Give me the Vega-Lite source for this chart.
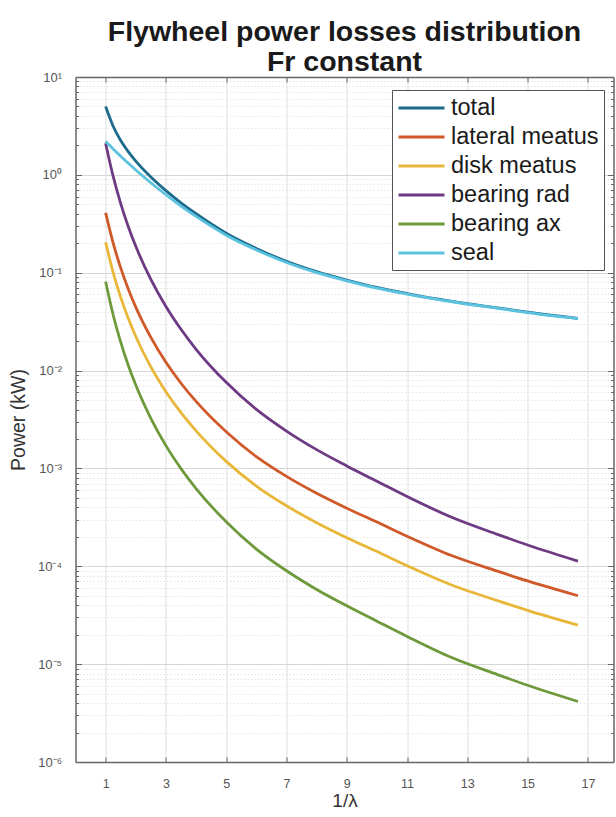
{
  "$schema": "https://vega.github.io/schema/vega-lite/v6.json",
  "width": 538,
  "height": 685,
  "autosize": {"type": "none"},
  "padding": {"left": 75.5, "top": 77, "right": 2.5, "bottom": 55},
  "background": "white",
  "title": {
    "text": ["Flywheel power losses distribution", "Fr constant"],
    "font": "Liberation Sans",
    "fontSize": 28.5,
    "fontWeight": "bold",
    "color": "#1a1a1a",
    "anchor": "middle",
    "offset": 6,
    "dy": 11,
    "lineHeight": 30
  },
  "config": {
    "view": {"stroke": null},
    "axis": {
      "labelFont": "Liberation Sans",
      "titleFont": "Liberation Sans",
      "labelColor": "#555555",
      "titleColor": "#333333",
      "titleFontWeight": "normal",
      "domainColor": "#666666",
      "domainWidth": 1.5,
      "tickColor": "#666666"
    },
    "line": {"strokeCap": "butt", "strokeJoin": "round"}
  },
  "data": {
    "values": [
      {"x": 1, "s": "total", "p": 5.0},
      {"x": 1.25, "s": "total", "p": 3.14},
      {"x": 1.5, "s": "total", "p": 2.244},
      {"x": 1.75, "s": "total", "p": 1.728},
      {"x": 2, "s": "total", "p": 1.382},
      {"x": 2.5, "s": "total", "p": 0.9515},
      {"x": 3, "s": "total", "p": 0.691},
      {"x": 3.5, "s": "total", "p": 0.5185},
      {"x": 4, "s": "total", "p": 0.4004},
      {"x": 5, "s": "total", "p": 0.2534},
      {"x": 6, "s": "total", "p": 0.1771},
      {"x": 7, "s": "total", "p": 0.1307},
      {"x": 8, "s": "total", "p": 0.1025},
      {"x": 9, "s": "total", "p": 0.0842},
      {"x": 10, "s": "total", "p": 0.0707},
      {"x": 11, "s": "total", "p": 0.0613},
      {"x": 12.5, "s": "total", "p": 0.051},
      {"x": 14, "s": "total", "p": 0.0437},
      {"x": 15, "s": "total", "p": 0.0395},
      {"x": 16.67, "s": "total", "p": 0.0342},

      {"x": 1, "s": "lateral meatus", "p": 0.41},
      {"x": 1.25, "s": "lateral meatus", "p": 0.2006},
      {"x": 1.5, "s": "lateral meatus", "p": 0.1119},
      {"x": 1.75, "s": "lateral meatus", "p": 0.0683},
      {"x": 2, "s": "lateral meatus", "p": 0.0445},
      {"x": 2.5, "s": "lateral meatus", "p": 0.0218},
      {"x": 3, "s": "lateral meatus", "p": 0.01215},
      {"x": 3.5, "s": "lateral meatus", "p": 0.00742},
      {"x": 4, "s": "lateral meatus", "p": 0.00484},
      {"x": 5, "s": "lateral meatus", "p": 0.00237},
      {"x": 6, "s": "lateral meatus", "p": 0.00132},
      {"x": 7, "s": "lateral meatus", "p": 0.000829},
      {"x": 8, "s": "lateral meatus", "p": 0.000557},
      {"x": 9, "s": "lateral meatus", "p": 0.000392},
      {"x": 10, "s": "lateral meatus", "p": 0.000283},
      {"x": 11, "s": "lateral meatus", "p": 0.000203},
      {"x": 12.5, "s": "lateral meatus", "p": 0.000128},
      {"x": 14, "s": "lateral meatus", "p": 0.0000891},
      {"x": 15, "s": "lateral meatus", "p": 0.0000708},
      {"x": 16.67, "s": "lateral meatus", "p": 0.00005},

      {"x": 1, "s": "disk meatus", "p": 0.205},
      {"x": 1.25, "s": "disk meatus", "p": 0.1003},
      {"x": 1.5, "s": "disk meatus", "p": 0.056},
      {"x": 1.75, "s": "disk meatus", "p": 0.0342},
      {"x": 2, "s": "disk meatus", "p": 0.0223},
      {"x": 2.5, "s": "disk meatus", "p": 0.0109},
      {"x": 3, "s": "disk meatus", "p": 0.00608},
      {"x": 3.5, "s": "disk meatus", "p": 0.00371},
      {"x": 4, "s": "disk meatus", "p": 0.00242},
      {"x": 5, "s": "disk meatus", "p": 0.00118},
      {"x": 6, "s": "disk meatus", "p": 0.00066},
      {"x": 7, "s": "disk meatus", "p": 0.000415},
      {"x": 8, "s": "disk meatus", "p": 0.000279},
      {"x": 9, "s": "disk meatus", "p": 0.000196},
      {"x": 10, "s": "disk meatus", "p": 0.0001415},
      {"x": 11, "s": "disk meatus", "p": 0.0001015},
      {"x": 12.5, "s": "disk meatus", "p": 0.000064},
      {"x": 14, "s": "disk meatus", "p": 0.0000446},
      {"x": 15, "s": "disk meatus", "p": 0.0000354},
      {"x": 16.67, "s": "disk meatus", "p": 0.000025},

      {"x": 1, "s": "bearing rad", "p": 2.1},
      {"x": 1.25, "s": "bearing rad", "p": 0.963},
      {"x": 1.5, "s": "bearing rad", "p": 0.509},
      {"x": 1.75, "s": "bearing rad", "p": 0.297},
      {"x": 2, "s": "bearing rad", "p": 0.186},
      {"x": 2.5, "s": "bearing rad", "p": 0.0855},
      {"x": 3, "s": "bearing rad", "p": 0.0452},
      {"x": 3.5, "s": "bearing rad", "p": 0.0264},
      {"x": 4, "s": "bearing rad", "p": 0.0165},
      {"x": 5, "s": "bearing rad", "p": 0.00758},
      {"x": 6, "s": "bearing rad", "p": 0.00401},
      {"x": 7, "s": "bearing rad", "p": 0.00241},
      {"x": 8, "s": "bearing rad", "p": 0.001556},
      {"x": 9, "s": "bearing rad", "p": 0.00106},
      {"x": 10, "s": "bearing rad", "p": 0.00074},
      {"x": 11, "s": "bearing rad", "p": 0.000516},
      {"x": 12.5, "s": "bearing rad", "p": 0.000315},
      {"x": 14, "s": "bearing rad", "p": 0.000212},
      {"x": 15, "s": "bearing rad", "p": 0.000165},
      {"x": 16.67, "s": "bearing rad", "p": 0.000113},

      {"x": 1, "s": "bearing ax", "p": 0.081},
      {"x": 1.25, "s": "bearing ax", "p": 0.037},
      {"x": 1.5, "s": "bearing ax", "p": 0.0195},
      {"x": 1.75, "s": "bearing ax", "p": 0.01135},
      {"x": 2, "s": "bearing ax", "p": 0.00711},
      {"x": 2.5, "s": "bearing ax", "p": 0.00325},
      {"x": 3, "s": "bearing ax", "p": 0.00171},
      {"x": 3.5, "s": "bearing ax", "p": 0.000996},
      {"x": 4, "s": "bearing ax", "p": 0.000623},
      {"x": 5, "s": "bearing ax", "p": 0.000285},
      {"x": 6, "s": "bearing ax", "p": 0.00015},
      {"x": 7, "s": "bearing ax", "p": 0.00009},
      {"x": 8, "s": "bearing ax", "p": 0.000058},
      {"x": 9, "s": "bearing ax", "p": 0.0000395},
      {"x": 10, "s": "bearing ax", "p": 0.0000275},
      {"x": 11, "s": "bearing ax", "p": 0.0000192},
      {"x": 12.5, "s": "bearing ax", "p": 0.0000116},
      {"x": 14, "s": "bearing ax", "p": 0.00000782},
      {"x": 15, "s": "bearing ax", "p": 0.00000608},
      {"x": 16.67, "s": "bearing ax", "p": 0.00000415},

      {"x": 1, "s": "seal", "p": 2.2},
      {"x": 1.25, "s": "seal", "p": 1.84},
      {"x": 1.5, "s": "seal", "p": 1.548},
      {"x": 1.75, "s": "seal", "p": 1.317},
      {"x": 2, "s": "seal", "p": 1.122},
      {"x": 2.5, "s": "seal", "p": 0.83},
      {"x": 3, "s": "seal", "p": 0.626},
      {"x": 3.5, "s": "seal", "p": 0.48},
      {"x": 4, "s": "seal", "p": 0.376},
      {"x": 5, "s": "seal", "p": 0.242},
      {"x": 6, "s": "seal", "p": 0.171},
      {"x": 7, "s": "seal", "p": 0.127},
      {"x": 8, "s": "seal", "p": 0.1},
      {"x": 9, "s": "seal", "p": 0.0825},
      {"x": 10, "s": "seal", "p": 0.0695},
      {"x": 11, "s": "seal", "p": 0.0605},
      {"x": 12.5, "s": "seal", "p": 0.0505},
      {"x": 14, "s": "seal", "p": 0.0433},
      {"x": 15, "s": "seal", "p": 0.0392},
      {"x": 16.67, "s": "seal", "p": 0.034}
    ]
  },
  "layer": [
    {
      "transform": [{"filter": "datum.s !== 'seal'"}],
      "mark": {"type": "line", "strokeWidth": 2.8, "interpolate": "monotone"},
      "encoding": {
        "x": {
          "field": "x",
          "type": "quantitative",
          "scale": {"domain": [0, 17.85], "nice": false, "zero": false},
          "axis": {
            "values": [1, 3, 5, 7, 9, 11, 13, 15, 17],
            "title": "1/λ",
            "titleFontSize": 19,
            "titlePadding": 2,
            "labelFontSize": 12.5,
            "labelPadding": 20,
            "tickSize": -5,
            "grid": true,
            "gridColor": "#dedede",
            "gridWidth": 1
          }
        },
        "y": {
          "field": "p",
          "type": "quantitative",
          "scale": {"type": "log", "domain": [0.000001, 10], "nice": false},
          "axis": {
            "values": [0.000001, 0.000002, 0.000003, 0.000004, 0.000005, 0.000006, 0.000007, 0.000008, 0.000009,
                       0.00001, 0.00002, 0.00003, 0.00004, 0.00005, 0.00006, 0.00007, 0.00008, 0.00009,
                       0.0001, 0.0002, 0.0003, 0.0004, 0.0005, 0.0006, 0.0007, 0.0008, 0.0009,
                       0.001, 0.002, 0.003, 0.004, 0.005, 0.006, 0.007, 0.008, 0.009,
                       0.01, 0.02, 0.03, 0.04, 0.05, 0.06, 0.07, 0.08, 0.09,
                       0.1, 0.2, 0.3, 0.4, 0.5, 0.6, 0.7, 0.8, 0.9,
                       1, 2, 3, 4, 5, 6, 7, 8, 9, 10],
            "labelExpr": "abs(log(datum.value)/LN10 - round(log(datum.value)/LN10)) < 0.001 ? ['10⁻⁶','10⁻⁵','10⁻⁴','10⁻³','10⁻²','10⁻¹','10⁰','10¹'][round(log(datum.value)/LN10) + 6] : ''",
            "labelFontSize": 13,
            "labelPadding": 20,
            "labelOverlap": false,
            "title": "Power (kW)",
            "titleFontSize": 19.5,
            "titlePadding": 9,
            "tickSize": {"condition": {"test": "abs(log(datum.value)/LN10 - round(log(datum.value)/LN10)) < 0.001", "value": -6}, "value": -3},
            "grid": true,
            "gridColor": {"condition": {"test": "abs(log(datum.value)/LN10 - round(log(datum.value)/LN10)) < 0.001", "value": "#d6d6d6"}, "value": "#e6e6e6"},
            "gridDash": {"condition": {"test": "abs(log(datum.value)/LN10 - round(log(datum.value)/LN10)) < 0.001", "value": []}, "value": [1.5, 2]}
          }
        },
        "color": {
          "field": "s",
          "type": "nominal",
          "scale": {
            "domain": ["total", "lateral meatus", "disk meatus", "bearing rad", "bearing ax", "seal"],
            "range": ["#1d6b8c", "#d0592a", "#e8b73a", "#6f3a84", "#6f9a3c", "#5bc3e0"]
          },
          "legend": {
            "title": null,
            "orient": "none",
            "legendX": 316.5,
            "legendY": 13,
            "symbolType": "M-1,0H3",
            "symbolSize": 529,
            "symbolStrokeWidth": 3,
            "labelFont": "Liberation Sans",
            "labelFontSize": 23.5,
            "labelColor": "#1a1a1a",
            "labelOffset": 28,
            "labelLimit": 300,
            "strokeColor": "#555555",
            "fillColor": "white",
            "padding": 5,
            "rowPadding": 4
          }
        }
      }
    },
    {
      "transform": [{"filter": "datum.s === 'seal'"}],
      "mark": {"type": "line", "strokeWidth": 2.8, "interpolate": "monotone"},
      "encoding": {
        "x": {
          "field": "x",
          "type": "quantitative",
          "axis": {
            "orient": "top",
            "values": [1, 3, 5, 7, 9, 11, 13, 15, 17],
            "labels": false,
            "title": null,
            "tickSize": -5,
            "grid": false
          }
        },
        "y": {
          "field": "p",
          "type": "quantitative",
          "axis": {
            "orient": "right",
            "values": [0.000001, 0.000002, 0.000003, 0.000004, 0.000005, 0.000006, 0.000007, 0.000008, 0.000009,
                       0.00001, 0.00002, 0.00003, 0.00004, 0.00005, 0.00006, 0.00007, 0.00008, 0.00009,
                       0.0001, 0.0002, 0.0003, 0.0004, 0.0005, 0.0006, 0.0007, 0.0008, 0.0009,
                       0.001, 0.002, 0.003, 0.004, 0.005, 0.006, 0.007, 0.008, 0.009,
                       0.01, 0.02, 0.03, 0.04, 0.05, 0.06, 0.07, 0.08, 0.09,
                       0.1, 0.2, 0.3, 0.4, 0.5, 0.6, 0.7, 0.8, 0.9,
                       1, 2, 3, 4, 5, 6, 7, 8, 9, 10],
            "labels": false,
            "title": null,
            "tickSize": {"condition": {"test": "abs(log(datum.value)/LN10 - round(log(datum.value)/LN10)) < 0.001", "value": -6}, "value": -3},
            "grid": false
          }
        },
        "color": {"field": "s", "type": "nominal"}
      }
    }
  ],
  "resolve": {"axis": {"x": "independent", "y": "independent"}}
}
